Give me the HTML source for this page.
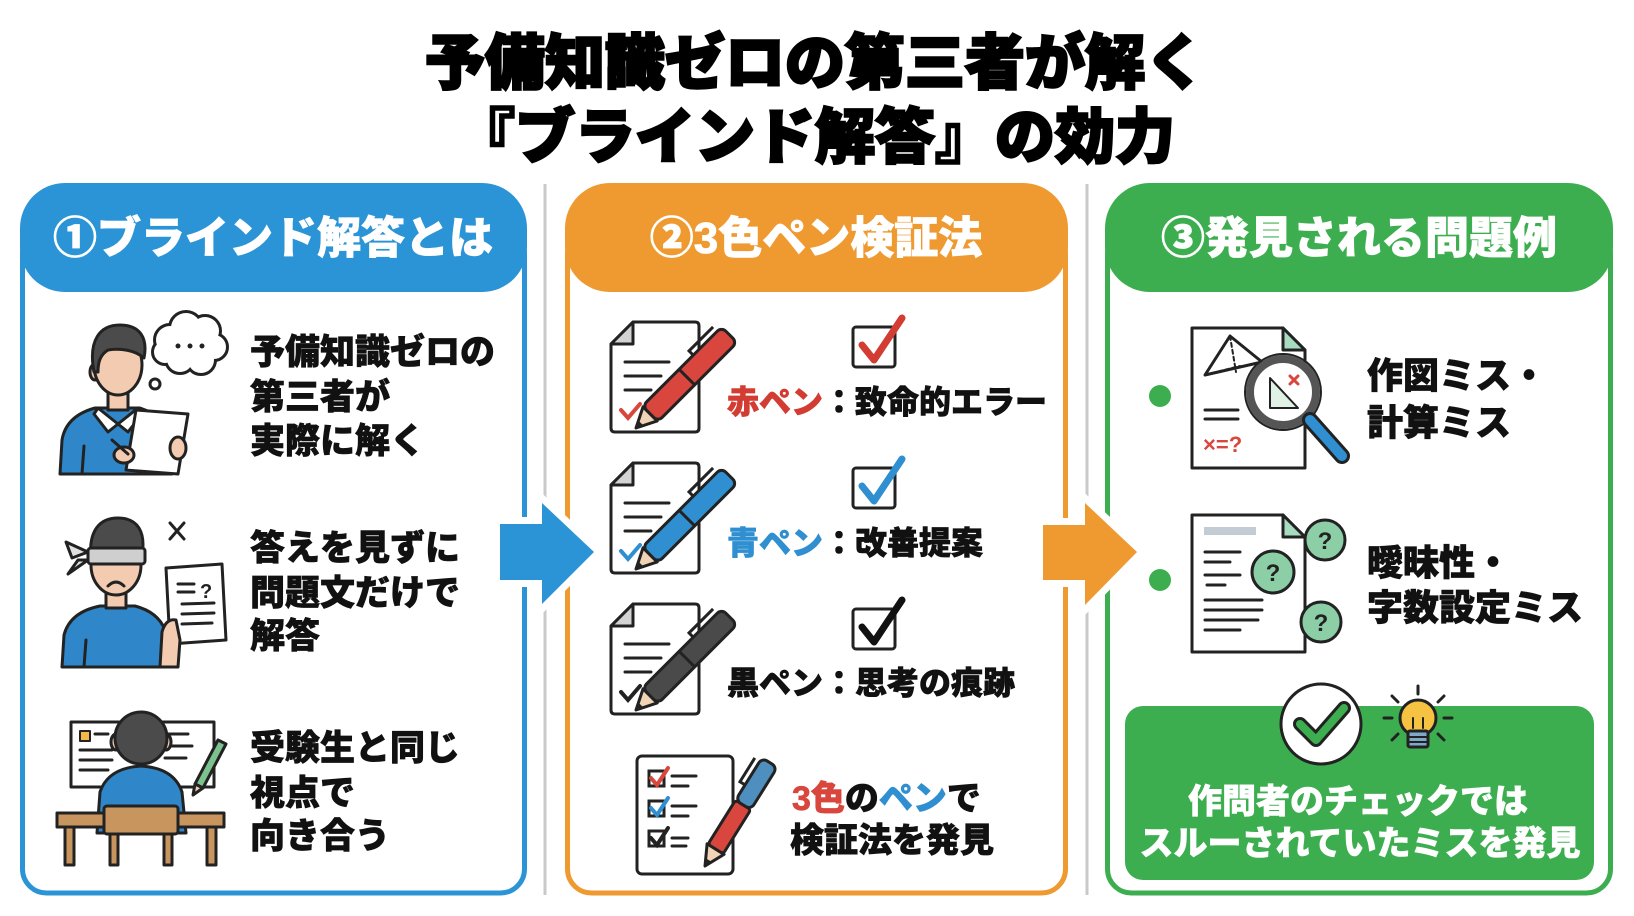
<!DOCTYPE html>
<html><head><meta charset="utf-8">
<style>
html,body{margin:0;padding:0;background:#fff;}
svg{display:block;}
text{font-family:"Liberation Sans","Noto Sans CJK JP",sans-serif;font-weight:900;}
</style></head><body>
<svg width="1634" height="916" viewBox="0 0 1634 916" xmlns="http://www.w3.org/2000/svg">
<rect width="1634" height="916" fill="#fff"/>

<!-- Title -->
<text x="815" y="84" font-size="60" text-anchor="middle" fill="#000" stroke="#000" stroke-width="2.5">予備知識ゼロの第三者が解く</text>
<text x="815" y="158" font-size="60" text-anchor="middle" fill="#000" stroke="#000" stroke-width="2.5">『ブラインド解答』の効力</text>

<!-- Dividers -->
<line x1="545" y1="184" x2="545" y2="895" stroke="#c9c9c9" stroke-width="3"/>
<line x1="1087" y1="184" x2="1087" y2="895" stroke="#c9c9c9" stroke-width="3"/>

<!-- Panel 1 -->
<rect x="22.5" y="230" width="502" height="663" rx="24" fill="#fff" stroke="#2b94d6" stroke-width="5"/>
<rect x="20" y="183" width="507" height="109" rx="45" fill="#2b94d6"/>
<text x="273" y="253" font-size="44" text-anchor="middle" fill="#fff" stroke="#fff" stroke-width="0.8">①ブラインド解答とは</text>

<!-- Panel 2 -->
<rect x="567.5" y="230" width="498" height="663" rx="24" fill="#fff" stroke="#ef9a31" stroke-width="5"/>
<rect x="565" y="183" width="503" height="109" rx="45" fill="#ef9a31"/>
<text x="816" y="253" font-size="44" text-anchor="middle" fill="#fff" stroke="#fff" stroke-width="0.8">②3色ペン検証法</text>

<!-- Panel 3 -->
<rect x="1107.5" y="230" width="503" height="663" rx="24" fill="#fff" stroke="#3cae4f" stroke-width="5"/>
<rect x="1105" y="183" width="508" height="109" rx="45" fill="#3cae4f"/>
<text x="1359" y="253" font-size="44" text-anchor="middle" fill="#fff" stroke="#fff" stroke-width="0.8">③発見される問題例</text>

<!-- Arrows -->
<polygon points="500,524 542,524 542,503 594,552 542,604 542,580 500,580" fill="#fff" stroke="#fff" stroke-width="14" stroke-linejoin="miter"/>
<polygon points="500,524 542,524 542,503 594,552 542,604 542,580 500,580" fill="#2b94d6"/>
<polygon points="1043,525 1085,525 1085,503 1137,552 1085,605 1085,580 1043,580" fill="#fff" stroke="#fff" stroke-width="14"/>
<polygon points="1043,525 1085,525 1085,503 1137,552 1085,605 1085,580 1043,580" fill="#ef9a31"/>

<!-- ===== Panel 1 icons ===== -->
<g stroke="#222" stroke-width="3" stroke-linejoin="round" stroke-linecap="round">
  <!-- Person 1 -->
  <g>
    <g stroke-width="6">
      <circle cx="170" cy="340" r="14" fill="#222"/><circle cx="186" cy="328" r="15" fill="#222"/>
      <circle cx="205" cy="331" r="14" fill="#222"/><circle cx="214" cy="347" r="12" fill="#222"/>
      <circle cx="201" cy="360" r="13" fill="#222"/><circle cx="180" cy="359" r="13" fill="#222"/>
      <circle cx="165" cy="352" r="11" fill="#222"/>
    </g>
    <g stroke="none" fill="#fff">
      <circle cx="170" cy="340" r="14"/><circle cx="186" cy="328" r="15"/>
      <circle cx="205" cy="331" r="14"/><circle cx="214" cy="347" r="12"/>
      <circle cx="201" cy="360" r="13"/><circle cx="180" cy="359" r="13"/>
      <circle cx="165" cy="352" r="11"/><circle cx="190" cy="345" r="16"/>
    </g>
    <circle cx="178" cy="346" r="2.5" fill="#222" stroke="none"/>
    <circle cx="190" cy="346" r="2.5" fill="#222" stroke="none"/>
    <circle cx="202" cy="346" r="2.5" fill="#222" stroke="none"/>
    <circle cx="155" cy="384" r="5" fill="#fff"/>
    <path d="M60,474 L62,440 Q66,416 95,408 L140,408 Q165,416 170,440 L172,474 Z" fill="#2f87c9"/>
    <rect x="108" y="390" width="20" height="20" fill="#f3cbb1"/>
    <path d="M98,408 L118,424 L108,432 L94,414 Z" fill="#fff"/>
    <path d="M138,408 L118,424 L128,432 L142,414 Z" fill="#fff"/>
    <path d="M82,474 L84,446"/>
    <ellipse cx="95" cy="372" rx="5" ry="8" fill="#f3cbb1"/>
    <ellipse cx="118" cy="365" rx="24" ry="30" fill="#f3cbb1"/>
    <path d="M94,372 C88,340 100,325 120,325 C140,325 148,338 144,358 C135,350 120,348 108,350 C100,355 98,362 98,372 Z" fill="#4b4b4b"/>
    <polygon points="136,410 188,414 178,474 126,470" fill="#fff"/>
    <ellipse cx="178" cy="448" rx="8" ry="11" fill="#f3cbb1"/>
    <ellipse cx="124" cy="455" rx="10" ry="8" fill="#f3cbb1"/>
    <path d="M112,440 L128,454"/>
  </g>

  <!-- Person 2 blindfolded -->
  <g>
    <path d="M170,523 L184,539 M184,523 L170,539" stroke-width="3"/>
    <path d="M62,667 L64,635 Q70,612 100,606 L135,606 Q158,612 165,630 L170,667 Z" fill="#2f87c9"/>
    <path d="M84,667 L86,640"/>
    <rect x="106" y="590" width="20" height="18" fill="#f3cbb1"/>
    <ellipse cx="116" cy="565" rx="25" ry="30" fill="#f3cbb1"/>
    <path d="M91,560 C88,530 100,518 118,518 C138,518 146,532 142,556 L91,556 Z" fill="#4b4b4b"/>
    <rect x="88" y="548" width="57" height="16" rx="3" fill="#cfcfcf"/>
    <polygon points="88,552 66,542 72,558" fill="#e0e0e0"/>
    <polygon points="88,560 68,574 78,560" fill="#e0e0e0"/>
    <path d="M108,586 Q116,578 124,586" fill="none"/>
    <polygon points="166,568 222,564 226,640 170,644" fill="#fff"/>
    <path d="M178,584 L194,584 M178,592 L194,592 M182,604 L214,603 M182,614 L214,613 M182,624 L212,623"/>
    <text x="200" y="598" font-size="20" font-weight="400" fill="#222" stroke="none">?</text>
    <path d="M160,667 L162,632 Q166,618 176,620 L180,640 L178,667 Z" fill="#f3cbb1"/>
  </g>

  <!-- Person 3 at desk -->
  <g>
    <rect x="71" y="722" width="143" height="65" fill="#fff"/>
    <rect x="80" y="731" width="10" height="10" fill="#f3b84a" stroke-width="2"/>
    <path d="M95,734 L108,734 M80,750 L112,750 M80,760 L112,760 M80,770 L108,770 M165,734 L188,734 M165,746 L192,746 M165,758 L186,758"/>
    <polygon points="195,784 218,740 226,744 203,788" fill="#7cc28e"/>
    <polygon points="195,784 203,788 193,795" fill="#f3cbb1"/>
    <path d="M97,833 L100,792 Q108,768 141,766 Q174,768 182,792 L186,833 Z" fill="#2f87c9"/>
    <ellipse cx="116" cy="742" rx="5" ry="8" fill="#f3cbb1"/>
    <ellipse cx="166" cy="742" rx="5" ry="8" fill="#f3cbb1"/>
    <circle cx="141" cy="738" r="26" fill="#4b4b4b"/>
    <rect x="57" y="813" width="167" height="14" fill="#c9955e"/>
    <rect x="65" y="827" width="9" height="38" fill="#c9955e"/>
    <rect x="207" y="827" width="9" height="38" fill="#c9955e"/>
    <rect x="104" y="806" width="74" height="28" rx="3" fill="#c9955e"/>
    <rect x="110" y="834" width="8" height="31" fill="#c9955e"/>
    <rect x="164" y="834" width="8" height="31" fill="#c9955e"/>
  </g>
</g>

<!-- Panel 1 texts -->
<g font-size="35" fill="#111" stroke="#111" stroke-width="0.7">
  <text x="250" y="364">予備知識ゼロの</text>
  <text x="250" y="409">第三者が</text>
  <text x="250" y="453">実際に解く</text>
  <text x="250" y="560">答えを見ずに</text>
  <text x="250" y="605">問題文だけで</text>
  <text x="250" y="648">解答</text>
  <text x="250" y="760">受験生と同じ</text>
  <text x="250" y="805">視点で</text>
  <text x="250" y="848">向き合う</text>
</g>

<!-- ===== Panel 2 icons ===== -->
<defs>
  <g id="doc">
    <path d="M0,22 L22,0 L84,0 Q88,0 88,4 L88,106 Q88,110 84,110 L4,110 Q0,110 0,106 Z" fill="#fff" stroke="#222" stroke-width="3" stroke-linejoin="round"/>
    <path d="M0,22 L22,22 L22,0 Z" fill="#d3d3d3" stroke="#222" stroke-width="3" stroke-linejoin="round"/>
    <path d="M14,40 L58,40 M14,54 L50,54 M14,68 L40,68" stroke="#222" stroke-width="3" stroke-linecap="round"/>
  </g>
  <g id="penbody">
    <polygon points="0,0 20,-10 20,10" fill="#f1d3b5" stroke="#222" stroke-width="3" stroke-linejoin="round"/>
    <polygon points="0,0 7,-3.5 7,3.5" fill="#222"/>
  </g>
</defs>

<!-- Row 1 red -->
<use href="#doc" x="611" y="322"/>
<path d="M621,410 L628,418 L640,404" stroke="#d9463d" stroke-width="4" fill="none" stroke-linecap="round"/>
<g transform="translate(636,428) rotate(-45)">
  <use href="#penbody"/>
  <rect x="20" y="-11" width="112" height="22" rx="6" fill="#d9463d" stroke="#222" stroke-width="3"/>
  <line x1="72" y1="-11" x2="72" y2="11" stroke="#222" stroke-width="3"/>
  <path d="M92,-11 L92,-17 L126,-17" fill="none" stroke="#222" stroke-width="3"/>
</g>
<rect x="853" y="327" width="42" height="40" rx="3" fill="#fff" stroke="#222" stroke-width="3"/>
<polyline points="862,345 874,360 902,318" fill="none" stroke="#d23c32" stroke-width="7" stroke-linecap="round" stroke-linejoin="round"/>
<text x="727" y="413" font-size="32" stroke-width="0.7"><tspan fill="#d23c32" stroke="#d23c32">赤ペン</tspan><tspan fill="#111" stroke="#111">：致命的エラー</tspan></text>

<!-- Row 2 blue -->
<use href="#doc" x="611" y="463"/>
<path d="M621,551 L628,559 L640,545" stroke="#2f8fd0" stroke-width="4" fill="none" stroke-linecap="round"/>
<g transform="translate(636,569) rotate(-45)">
  <use href="#penbody"/>
  <rect x="20" y="-11" width="112" height="22" rx="6" fill="#2f8fd0" stroke="#222" stroke-width="3"/>
  <line x1="72" y1="-11" x2="72" y2="11" stroke="#222" stroke-width="3"/>
  <path d="M92,-11 L92,-17 L126,-17" fill="none" stroke="#222" stroke-width="3"/>
</g>
<rect x="853" y="468" width="42" height="40" rx="3" fill="#fff" stroke="#222" stroke-width="3"/>
<polyline points="862,486 874,501 902,459" fill="none" stroke="#2f8fd0" stroke-width="7" stroke-linecap="round" stroke-linejoin="round"/>
<text x="727" y="554" font-size="32" stroke-width="0.7"><tspan fill="#2f8fd0" stroke="#2f8fd0">青ペン</tspan><tspan fill="#111" stroke="#111">：改善提案</tspan></text>

<!-- Row 3 black -->
<use href="#doc" x="611" y="604"/>
<path d="M621,692 L628,700 L640,686" stroke="#222" stroke-width="4" fill="none" stroke-linecap="round"/>
<g transform="translate(636,710) rotate(-45)">
  <use href="#penbody"/>
  <rect x="20" y="-11" width="112" height="22" rx="6" fill="#4a4a4a" stroke="#222" stroke-width="3"/>
  <line x1="72" y1="-11" x2="72" y2="11" stroke="#222" stroke-width="3"/>
  <path d="M92,-11 L92,-17 L126,-17" fill="none" stroke="#222" stroke-width="3"/>
</g>
<rect x="853" y="609" width="42" height="40" rx="3" fill="#fff" stroke="#222" stroke-width="3"/>
<polyline points="862,627 874,642 902,600" fill="none" stroke="#111" stroke-width="7" stroke-linecap="round" stroke-linejoin="round"/>
<text x="727" y="694" font-size="32" fill="#111" stroke="#111" stroke-width="0.7">黒ペン：思考の痕跡</text>

<!-- Row 4 checklist -->
<rect x="637" y="756" width="96" height="118" rx="5" fill="#fff" stroke="#222" stroke-width="3"/>
<g stroke="#222" stroke-width="3" fill="none" stroke-linecap="round">
  <rect x="649" y="771" width="15" height="15"/>
  <rect x="649" y="801" width="15" height="15"/>
  <rect x="649" y="831" width="15" height="15"/>
  <path d="M672,776 L696,776 M672,786 L688,786 M672,806 L696,806 M672,816 L688,816 M672,838 L688,838 M672,846 L686,846"/>
</g>
<polyline points="651,778 657,785 668,768" fill="none" stroke="#d9463d" stroke-width="4" stroke-linecap="round"/>
<polyline points="651,808 657,815 668,798" fill="none" stroke="#2f8fd0" stroke-width="4" stroke-linecap="round"/>
<polyline points="651,838 657,845 668,828" fill="none" stroke="#222" stroke-width="4" stroke-linecap="round"/>
<g transform="translate(705,866) rotate(-58)">
  <use href="#penbody"/>
  <rect x="20" y="-9" width="52" height="18" rx="3" fill="#d9463d" stroke="#222" stroke-width="3"/>
  <rect x="72" y="-9" width="50" height="18" rx="6" fill="#4f8fc0" stroke="#222" stroke-width="3"/>
  <path d="M90,-9 L90,-15 L118,-15" fill="none" stroke="#222" stroke-width="3"/>
</g>
<text x="792" y="810" font-size="34" stroke-width="0.7"><tspan fill="#d9463d" stroke="#d9463d">3色</tspan><tspan fill="#111" stroke="#111">の</tspan><tspan fill="#2f8fd0" stroke="#2f8fd0">ペン</tspan><tspan fill="#111" stroke="#111">で</tspan></text>
<text x="790" y="852" font-size="34" fill="#111" stroke="#111" stroke-width="0.7">検証法を発見</text>

<!-- ===== Panel 3 ===== -->
<circle cx="1160" cy="396" r="11" fill="#3cae4f"/>
<circle cx="1160" cy="580" r="11" fill="#3cae4f"/>

<g stroke="#222" stroke-width="3" stroke-linejoin="round" stroke-linecap="round">
  <path d="M1192,328 L1283,328 L1305,350 L1305,468 L1192,468 Z" fill="#fff"/>
  <path d="M1283,328 L1283,350 L1305,350 Z" fill="#a8dcc0"/>
  <polygon points="1205,375 1230,336 1262,362" fill="#fff"/>
  <path d="M1230,336 L1236,372 M1205,375 L1240,366" stroke-dasharray="4 3" stroke-width="2"/>
  <path d="M1205,410 L1238,410 M1205,419 L1238,419"/>
  <circle cx="1283" cy="392" r="33" fill="#fff" stroke="#555" stroke-width="8"/>
  <circle cx="1283" cy="392" r="38" fill="none" stroke="#222" stroke-width="2"/>
  <polygon points="1270,378 1270,408 1298,408" fill="#dff2e5" stroke-width="2"/>
  <path d="M1290,376 L1298,384 M1298,376 L1290,384" stroke="#d9463d" stroke-width="3"/>
  <line x1="1310" y1="420" x2="1342" y2="456" stroke="#222" stroke-width="16"/>
  <line x1="1310" y1="420" x2="1342" y2="456" stroke="#2f8fd0" stroke-width="10"/>
</g>
<text x="1203" y="452" font-size="22" fill="#d9463d" font-weight="700">×=?</text>

<g stroke="#222" stroke-width="3" stroke-linejoin="round" stroke-linecap="round">
  <path d="M1192,515 L1283,515 L1305,537 L1305,652 L1192,652 Z" fill="#fff"/>
  <path d="M1283,515 L1283,537 L1305,537 Z" fill="#a8dcc0"/>
  <rect x="1204" y="527" width="52" height="8" fill="#c3ccd4" stroke="none"/>
  <path d="M1205,552 L1240,552 M1205,562 L1230,562 M1205,575 L1240,575 M1207,585 L1225,585 M1205,600 L1262,600 M1205,610 L1262,610 M1205,620 L1258,620 M1205,630 L1240,630"/>
  <circle cx="1325" cy="540" r="20" fill="#8ccfa6"/>
  <circle cx="1273" cy="572" r="21" fill="#8ccfa6"/>
  <circle cx="1321" cy="622" r="20" fill="#8ccfa6"/>
</g>
<g font-size="24" font-weight="700" fill="#222" text-anchor="middle">
  <text x="1325" y="549">?</text>
  <text x="1273" y="581">?</text>
  <text x="1321" y="631">?</text>
</g>

<g font-size="36" fill="#111" stroke="#111" stroke-width="0.7">
  <text x="1367" y="388">作図ミス・</text>
  <text x="1367" y="435">計算ミス</text>
  <text x="1367" y="575">曖昧性・</text>
  <text x="1367" y="620">字数設定ミス</text>
</g>

<rect x="1125" y="706" width="469" height="174" rx="18" fill="#3cae4f"/>
<circle cx="1321" cy="724" r="40" fill="#fff" stroke="#222" stroke-width="3"/>
<polyline points="1300,724 1316,740 1344,708" fill="none" stroke="#222" stroke-width="14" stroke-linecap="round" stroke-linejoin="round"/>
<polyline points="1300,724 1316,740 1344,708" fill="none" stroke="#3cae4f" stroke-width="8" stroke-linecap="round" stroke-linejoin="round"/>
<g stroke="#222" stroke-width="3" stroke-linecap="round">
  <path d="M1418,686 L1418,694 M1392,696 L1398,702 M1444,696 L1438,702 M1384,718 L1392,718 M1452,718 L1444,718 M1392,740 L1398,734 M1444,740 L1438,734"/>
  <circle cx="1418" cy="718" r="18" fill="#f5c242"/>
  <path d="M1413,728 L1413,718 M1423,728 L1423,718" stroke-width="2"/>
  <rect x="1408" y="731" width="20" height="16" rx="2" fill="#7fa9c9"/>
  <path d="M1408,737 L1428,737 M1408,742 L1428,742" stroke-width="2"/>
</g>
<g font-size="34" fill="#fff" stroke="#fff" stroke-width="0.6" text-anchor="middle">
  <text x="1358" y="813">作問者のチェックでは</text>
  <text x="1360" y="855">スルーされていたミスを発見</text>
</g>
</svg>
</body></html>
